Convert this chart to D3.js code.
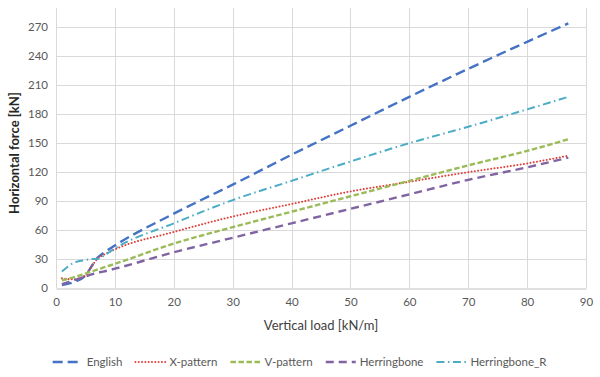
<!DOCTYPE html>
<html>
<head>
<meta charset="utf-8">
<script src="https://cdn.jsdelivr.net/npm/d3@7"></script>
<style>
  body { margin: 0; background: #fff; }
  svg { display: block; font-family: Lato, "Open Sans", sans-serif; }
</style>
</head>
<body>
<svg id="chart-area"></svg>
<script>
// data
const loads = [1, 3, 5, 6, 7, 8, 10, 20, 30, 40, 50, 60, 70, 80, 87]
const english      = [3, 6, 13, 22, 31, 36, 44, 77, 107, 138, 168, 198, 227, 255, 274]
const xPattern     = [10, 9, 13, 22, 30, 34, 40, 58, 74, 87, 100, 110, 120, 129, 137]
const vPattern     = [8, 11, 15, 17, 19, 21, 25, 46, 63, 79, 95, 111, 127, 142, 154]
const herringbone  = [4, 8, 12, 14, 16, 17, 20, 37, 52, 67, 82, 97, 112, 125, 135]
const herringboneR = [17, 26, 29, 30, 30, 33, 41, 67, 91, 111, 131, 150, 167, 185, 198]
const seriesNames = ["English", "X-pattern", "V-pattern", "Herringbone", "Herringbone_R"]
const xTicks = [0, 10, 20, 30, 40, 50, 60, 70, 80, 90]
const yTicks = [0, 30, 60, 90, 120, 150, 180, 210, 240, 270]

const styles = [
  { color: "#4472c4", width: 2.4, dash: "10,5", cap: "butt" },
  { color: "#e0403a", width: 2, dash: "0.01,3.3", cap: "round" },
  { color: "#9bbb59", width: 2.4, dash: "5.5,2.5", cap: "butt" },
  { color: "#8064a2", width: 2.4, dash: "8,5", cap: "butt" },
  { color: "#4bacc6", width: 2, dash: "8,3.5,1.5,3.5", cap: "butt" }
]

const allSeries = [english, xPattern, vPattern, herringbone, herringboneR]
  .map((vals, i) => ({ name: seriesNames[i], style: styles[i],
    points: loads.map((x, j) => ({ x: x, y: vals[j] })) }))

const svgWidth = 600, svgHeight = 377
const margin = { left: 56, right: 14, top: 8, bottom: 89 }
const chartWidth = svgWidth - margin.left - margin.right
const chartHeight = svgHeight - margin.top - margin.bottom

const svg = d3.select("#chart-area")
  .attr("width", svgWidth)
  .attr("height", svgHeight)

const chart = svg.append("g")
  .attr("transform", `translate(${margin.left},${margin.top})`)

const xScale = d3.scaleLinear().domain([0, 90]).range([0, chartWidth])
const yScale = d3.scaleLinear().domain([0, 290]).range([chartHeight, 0])

// gridlines
chart.append("g")
  .selectAll("line.h")
  .data(yTicks.slice(1))
  .enter().append("line")
  .attr("x1", 0).attr("x2", chartWidth)
  .attr("y1", d => Math.round(yScale(d)) + 0.5)
  .attr("y2", d => Math.round(yScale(d)) + 0.5)
  .attr("stroke", "#d9d9d9")

chart.append("g")
  .selectAll("line.v")
  .data(xTicks)
  .enter().append("line")
  .attr("y1", 0).attr("y2", chartHeight)
  .attr("x1", d => Math.round(xScale(d)) + 0.5)
  .attr("x2", d => Math.round(xScale(d)) + 0.5)
  .attr("stroke", "#d9d9d9")

// axes
const xAxis = chart.append("g")
  .attr("transform", `translate(0,${Math.round(chartHeight) + 0.5})`)
  .call(d3.axisBottom(xScale).tickValues(xTicks).tickSize(0).tickPadding(9))
xAxis.select(".domain").attr("stroke", "#bfbfbf")

const yAxis = chart.append("g")
  .attr("transform", "translate(-4,0)")
  .call(d3.axisLeft(yScale).tickValues(yTicks).tickSize(0).tickPadding(4))
yAxis.select(".domain").remove()

svg.selectAll(".tick text")
  .attr("fill", "#595959")
  .style("font-size", "11.5px")
  .style("font-family", "Lato, 'Open Sans', sans-serif")

// axis titles
svg.append("text")
  .attr("x", margin.left + chartWidth / 2)
  .attr("y", 330)
  .attr("text-anchor", "middle")
  .attr("fill", "#404040")
  .style("font-size", "13px")
  .text("Vertical load [kN/m]")

svg.append("text")
  .attr("transform", "translate(19,153) rotate(-90)")
  .attr("text-anchor", "middle")
  .attr("fill", "#262626")
  .style("font-size", "13px")
  .style("font-weight", "bold")
  .text("Horizontal force [kN]")

// lines
const line = d3.line()
  .x(d => xScale(d.x))
  .y(d => yScale(d.y))
  .curve(d3.curveMonotoneX)

chart.selectAll("path.series")
  .data(allSeries)
  .enter().append("path")
  .attr("class", "series")
  .attr("d", d => line(d.points))
  .attr("fill", "none")
  .attr("stroke", d => d.style.color)
  .attr("stroke-width", d => d.style.width)
  .attr("stroke-dasharray", d => d.style.dash)
  .attr("stroke-linecap", d => d.style.cap)

// legend
const legend = svg.append("g").attr("transform", "translate(0,362)")
const items = legend.selectAll("g")
  .data(allSeries)
  .enter().append("g")

items.append("line")
  .attr("x1", 0).attr("x2", 30)
  .attr("y1", 0).attr("y2", 0)
  .attr("stroke", d => d.style.color)
  .attr("stroke-width", d => d.style.width)
  .attr("stroke-dasharray", d => d.style.dash)
  .attr("stroke-linecap", d => d.style.cap)

items.append("text")
  .attr("x", 34)
  .attr("y", 4)
  .attr("fill", "#595959")
  .style("font-size", "11.5px")
  .text(d => d.name)

let widths = []
items.each(function() { widths.push(this.getBBox().width) })
const gap = 13
const total = d3.sum(widths) + gap * (widths.length - 1)
let xPos = (svgWidth - total) / 2
items.attr("transform", (d, i) => {
  const t = `translate(${xPos},0)`
  xPos += widths[i] + gap
  return t
})
</script>
</body>
</html>
